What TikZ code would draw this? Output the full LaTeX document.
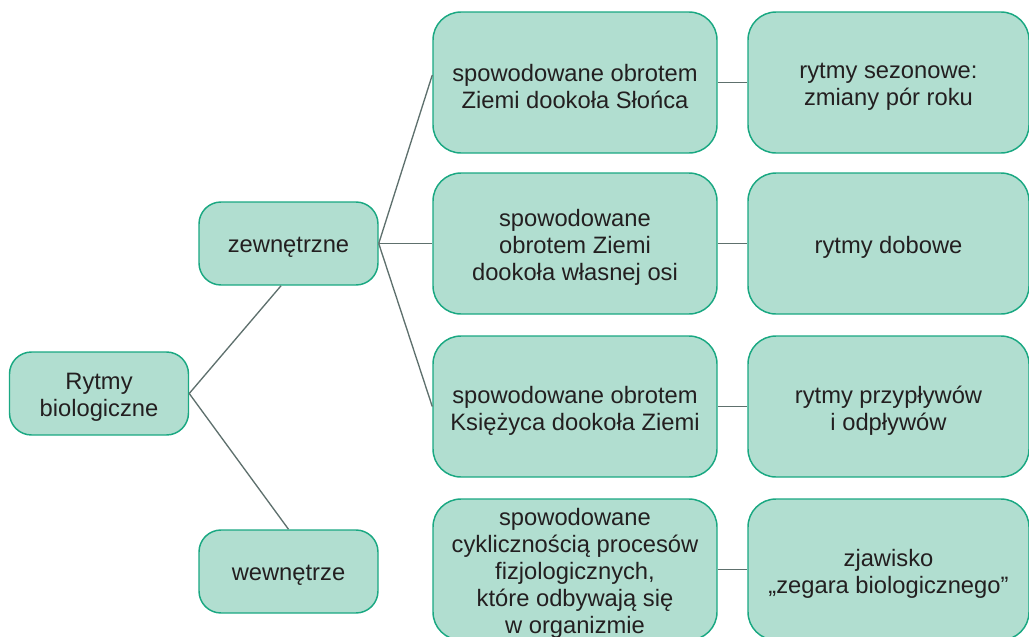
\documentclass[tikz,border=0pt]{standalone}
\usepackage{fontspec}
\setmainfont{Liberation Sans}
\definecolor{boxfill}{HTML}{B1DED0}
\definecolor{boxline}{HTML}{1AA882}
\definecolor{linkcol}{HTML}{5E706D}
\definecolor{txt}{HTML}{231F20}
\tikzset{
  box/.style={draw=boxline, fill=boxfill, line width=1.1pt, inner sep=0pt},
  caption/.style={align=center, text=txt, inner sep=0pt, yshift=-3pt,
    font=\fontsize{17.8}{20.3}\selectfont},
  txtin/.style={label={[caption]center:#1}},
  smallbox/.style={box, minimum width=134.25pt, minimum height=62.25pt, rounded corners=16.5pt},
  bigbox/.style={box, minimum width=213pt, minimum height=105.75pt, rounded corners=21pt},
  endbox/.style={box, minimum width=210.75pt, minimum height=105.75pt, rounded corners=21pt},
  link/.style={draw=linkcol, line width=1pt}
}
\begin{document}
\begin{tikzpicture}[x=0.75pt, y=-0.75pt]
\useasboundingbox (0,0) rectangle (1029,636);
\clip (0,0) rectangle (1029,636);

% root and the two kinds of rhythms
\node[smallbox, txtin={Rytmy\\biologiczne}] (root) at (99,393.5) {};
\node[smallbox, txtin={zewnętrzne}] (zew) at (288.5,243.5) {};
\node[smallbox, txtin={wewnętrze}] (wew) at (288.5,571.5) {};

% causes
\node[bigbox, txtin={spowodowane obrotem\\Ziemi dookoła Słońca}] (m1) at (575,82.5) {};
\node[bigbox, txtin={spowodowane\\obrotem Ziemi\\dookoła własnej osi}] (m2) at (575,243.5) {};
\node[bigbox, txtin={spowodowane obrotem\\Księżyca dookoła Ziemi}] (m3) at (575,406.5) {};
\node[bigbox, txtin={spowodowane\\cyklicznością procesów\\fizjologicznych,\\które odbywają się\\w organizmie}] (m4) at (575,569.5) {};

% effects
\node[endbox, txtin={rytmy sezonowe:\\zmiany pór roku}] (r1) at (888.5,82.5) {};
\node[endbox, txtin={rytmy dobowe}] (r2) at (888.5,243.5) {};
\node[endbox, txtin={rytmy przypływów\\i odpływów}] (r3) at (888.5,406.5) {};
\node[endbox, txtin={zjawisko\\„zegara biologicznego”}] (r4) at (888.5,569.5) {};

% connectors
\draw[link] (root.east) -- ([xshift=-5.6pt]zew.south);
\draw[link] (root.east) -- (wew.north);
\draw[link] (zew.east) -- ([yshift=5.6pt]m1.west);
\draw[link] (zew.east) -- (m2.west);
\draw[link] (zew.east) -- (m3.west);
\draw[link] (m1.east) -- (r1.west);
\draw[link] (m2.east) -- (r2.west);
\draw[link] (m3.east) -- (r3.west);
\draw[link] (m4.east) -- (r4.west);
\end{tikzpicture}
\end{document}
